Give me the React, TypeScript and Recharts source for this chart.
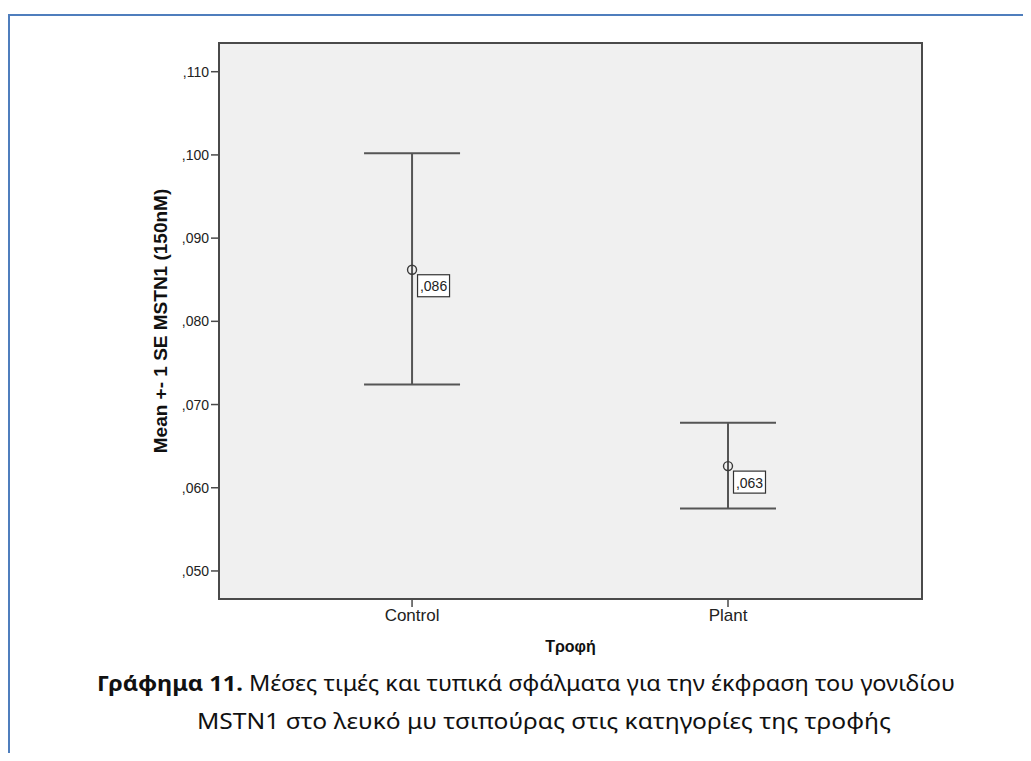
import React from "react";
import {
  ComposedChart,
  Scatter,
  ErrorBar,
  XAxis,
  YAxis,
  ReferenceArea,
} from "recharts";

// ---- data ----
const categories = ["Control", "Plant"];
const means = [0.0862, 0.0626];
const lowerBounds = [0.0724, 0.0575];
const upperBounds = [0.1002, 0.0678];
const yTicks = [0.05, 0.06, 0.07, 0.08, 0.09, 0.1, 0.11];
const xTicks = [1, 2];

const yLabel = "Mean +- 1 SE MSTN1 (150nM)";
const xTitle = "Τροφή";
const captionBold = "Γράφημα 11.";
const captionRest1 = " Μέσες τιμές και τυπικά σφάλματα για την έκφραση του γονιδίου";
const captionLine2 = "MSTN1 στο λευκό μυ τσιπούρας στις κατηγορίες της τροφής";

const data = categories.map((c, i) => ({
  x: xTicks[i],
  name: c,
  y: means[i],
  err: [means[i] - lowerBounds[i], upperBounds[i] - means[i]],
}));

const X_DOMAIN: [number, number] = [0.389, 2.614];
const Y_DOMAIN: [number, number] = [0.04663, 0.11345];

const fmt = (v: number) => v.toFixed(3).replace(/^0\./, ",");

const FONT = "'Liberation Sans', Arial, sans-serif";

const PointShape = (props: any) => {
  const { cx, cy, payload } = props;
  if (cx == null || cy == null) return null;
  return (
    <g>
      <circle cx={cx} cy={cy} r={4.5} fill="none" stroke="#3a3a3a" strokeWidth={1.4} />
      <rect
        x={cx + 5.5}
        y={cy + 5}
        width={32}
        height={22}
        fill="#ffffff"
        stroke="#333333"
        strokeWidth={1.2}
      />
      <text
        x={cx + 21.5}
        y={cy + 16.5}
        textAnchor="middle"
        dominantBaseline="central"
        fontFamily={FONT}
        fontSize={14}
        fill="#222"
      >
        {fmt(payload.y)}
      </text>
    </g>
  );
};

export default function App() {
  return (
    <div style={{ position: "relative", width: 1015, height: 745, background: "#fff" }}>
      <div
        style={{
          position: "absolute",
          left: 0,
          top: 6,
          width: 1030,
          height: 760,
          borderTop: "2px solid #4F7EBD",
          borderLeft: "2px solid #4F7EBD",
          boxSizing: "border-box",
        }}
      />
      <div style={{ position: "absolute", left: 0, top: 0 }}>
        <ComposedChart
          width={1015}
          height={640}
          margin={{ top: 35, right: 101, bottom: 9, left: 141 }}
          data={data}
        >
          <XAxis
            type="number"
            dataKey="x"
            domain={X_DOMAIN}
            ticks={xTicks}
            allowDataOverflow
            tickFormatter={(v: number) => categories[v - 1] ?? ""}
            tickSize={8}
            tickMargin={2}
            height={40}
            axisLine={false}
            tickLine={{ stroke: "#4a4a4a", strokeWidth: 1.5 }}
            tick={{ fontSize: 17, fill: "#222", fontFamily: FONT }}
            interval={0}
          />
          <YAxis
            type="number"
            dataKey="y"
            domain={Y_DOMAIN}
            ticks={yTicks}
            allowDataOverflow
            tickFormatter={fmt}
            tickSize={8}
            tickMargin={2}
            width={70}
            axisLine={false}
            tickLine={{ stroke: "#4a4a4a", strokeWidth: 1.5 }}
            tick={{ fontSize: 14, fill: "#222", fontFamily: FONT }}
            interval={0}
          />
          <ReferenceArea
            x1={X_DOMAIN[0]}
            x2={X_DOMAIN[1]}
            y1={Y_DOMAIN[0]}
            y2={Y_DOMAIN[1]}
            fill="#f0f0f0"
            fillOpacity={1}
            stroke="#4a4a4a"
            strokeWidth={2}
            ifOverflow="visible"
          />
          <Scatter
            dataKey="y"
            isAnimationActive={false}
            shape={PointShape}
          >
            <ErrorBar
              dataKey="err"
              direction="y"
              width={48}
              stroke="#555555"
              strokeWidth={2}
              isAnimationActive={false}
            />
          </Scatter>
        </ComposedChart>
      </div>
      <svg
        width={1015}
        height={745}
        style={{ position: "absolute", left: 0, top: 0, pointerEvents: "none" }}
      >
        <text
          transform="translate(152, 313) rotate(-90)"
          textAnchor="middle"
          dominantBaseline="central"
          fontFamily={FONT}
          fontWeight="bold"
          fontSize={19}
          fill="#111"
        >
          {yLabel}
        </text>
        <text
          x={562.5}
          y={638}
          textAnchor="middle"
          dominantBaseline="central"
          fontFamily={FONT}
          fontWeight="bold"
          fontSize={16}
          fill="#111"
        >
          {xTitle}
        </text>
        <text
          x={518}
          y={674}
          textAnchor="middle"
          dominantBaseline="central"
          fontFamily="'Noto Sans', 'Open Sans', sans-serif"
          fontSize={22}
          fill="#111"
          textLength={858}
          lengthAdjust="spacingAndGlyphs"
        >
          <tspan fontWeight="bold">{captionBold}</tspan>
          <tspan>{captionRest1}</tspan>
        </text>
        <text
          x={536}
          y={712}
          textAnchor="middle"
          dominantBaseline="central"
          fontFamily="'Noto Sans', 'Open Sans', sans-serif"
          fontSize={22}
          fill="#111"
          textLength={694}
          lengthAdjust="spacingAndGlyphs"
        >
          {captionLine2}
        </text>
      </svg>
    </div>
  );
}
